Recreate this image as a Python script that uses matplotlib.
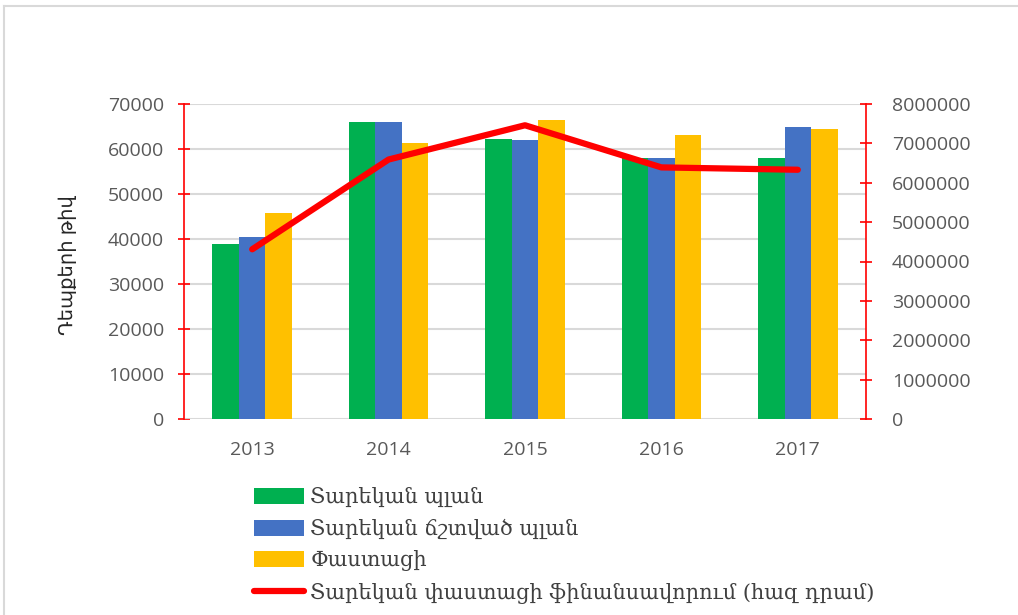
import matplotlib
matplotlib.use("Agg")
import matplotlib.pyplot as plt
import numpy as np
from matplotlib.lines import Line2D
from matplotlib.patches import Patch
from matplotlib.ticker import FuncFormatter

years = ["2013", "2014", "2015", "2016", "2017"]
plan = [39000, 66000, 62300, 58000, 58000]
plan_adjusted = [40500, 66000, 62100, 58000, 64800]
actual = [45800, 61400, 66400, 63100, 64500]
financing = [4310000, 6590000, 7460000, 6390000, 6330000]

labels = ["Տարեկան պլան", "Տարեկան ճշտված պլան", "Փաստացի",
          "Տարեկան փաստացի ֆինանսավորում (հազ դրամ)"]
ylabel = "Դեպքերի թիվ"

c_green = "#00b050"
c_blue = "#4472c4"
c_yellow = "#ffc000"
c_red = "#ff0000"
tick_col = "#595959"
grid_col = "#d9d9d9"

W, H = 1018, 615
fig = plt.figure(figsize=(W / 100, H / 100), dpi=100)
ax = fig.add_axes([184 / W, 1 - 419 / H, (866 - 184) / W, (419 - 104) / H])
ax2 = ax.twinx()

x = np.arange(len(years))
bw = 0.195
ax.bar(x - bw, plan, bw, color=c_green, zorder=3)
ax.bar(x, plan_adjusted, bw, color=c_blue, zorder=3)
ax.bar(x + bw, actual, bw, color=c_yellow, zorder=3)
ax2.plot(x, financing, color=c_red, lw=4.5, solid_capstyle="round", zorder=4)

ax.set_xlim(-0.5, len(years) - 0.5)
ax.set_ylim(0, 70000)
ax.set_yticks(np.arange(0, 70001, 10000))
ax2.set_ylim(0, 8000000)
ax2.set_yticks(np.arange(0, 8000001, 1000000))
ax2.yaxis.set_major_formatter(FuncFormatter(lambda v, p: f"{int(round(v))}"))
ax.set_xticks(x)
ax.set_xticklabels(years)

for lab in ax.get_xticklabels() + ax.get_yticklabels() + ax2.get_yticklabels():
    lab.set_fontfamily(["Open Sans", "DejaVu Sans"])
    lab.set_fontsize(14)
    lab.set_color(tick_col)

ax.yaxis.grid(True, color=grid_col, lw=1.5, zorder=0)
ax.set_axisbelow(True)
for a in (ax, ax2):
    a.spines["top"].set_visible(False)
    a.spines["bottom"].set_visible(False)
ax.spines["right"].set_visible(False)
ax2.spines["left"].set_visible(False)
ax.spines["left"].set_color(c_red)
ax.spines["left"].set_linewidth(1.2)
ax2.spines["right"].set_color(c_red)
ax2.spines["right"].set_linewidth(1.2)
ax.axhline(0, color=grid_col, lw=2, zorder=1)

ax.tick_params(axis="x", length=0, pad=16)
ax.tick_params(axis="y", direction="inout", length=9, color=c_red, width=1.2, pad=10)
ax2.tick_params(axis="y", direction="inout", length=9, color=c_red, width=1.2, pad=14)

fig.text(68 / W, 1 - 265 / H, ylabel, rotation=90, ha="center", va="center",
         fontsize=14, color="#262626", family=["Open Sans", "DejaVu Sans"])

handles = [Patch(facecolor=c_green), Patch(facecolor=c_blue), Patch(facecolor=c_yellow),
           Line2D([0], [0], color=c_red, lw=4.5, solid_capstyle="round")]
fig.legend(handles, labels, loc="upper left", bbox_to_anchor=(254 / W, 1 - 487 / H),
           frameon=False, handlelength=2.4, handleheight=0.8, handletextpad=0.3,
           labelspacing=0.55, borderpad=0, borderaxespad=0,
           prop=dict(family=["DejaVu Serif"], size=15), labelcolor="#404040")

# outer chart border
fig.add_artist(Line2D([4 / W, 1], [1 - 6 / H, 1 - 6 / H], color="#d9d9d9", lw=1.5,
                      transform=fig.transFigure))
fig.add_artist(Line2D([4 / W, 4 / W], [0, 1 - 6 / H], color="#d9d9d9", lw=1.5,
                      transform=fig.transFigure))

fig.savefig("out.png", dpi=100)
